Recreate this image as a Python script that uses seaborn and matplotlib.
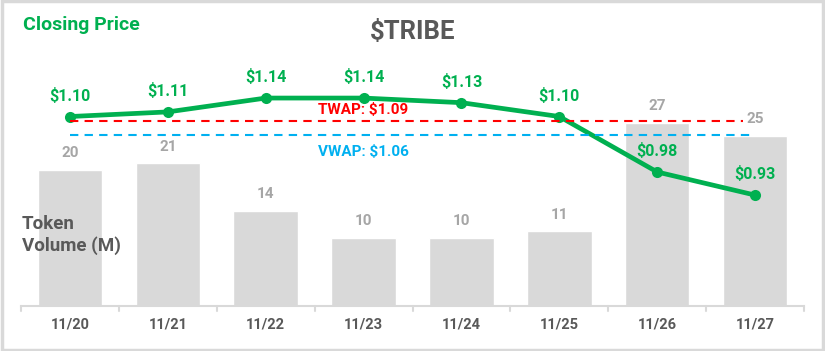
import numpy as np
import pandas as pd
import matplotlib.pyplot as plt
import seaborn as sns
from matplotlib.patches import Rectangle

# chart data
dates = ['11/20', '11/21', '11/22', '11/23', '11/24', '11/25', '11/26', '11/27']
volume = [20, 21, 14, 10, 10, 11, 27, 25]
price = [1.10, 1.11, 1.14, 1.14, 1.13, 1.10, 0.98, 0.93]
twap = 1.09
vwap = 1.06

GREEN = '#00B050'
BAR_GRAY = '#D9D9D9'
DARK = '#595959'
LABEL_GRAY = '#A6A6A6'
RED = '#FF0000'
BLUE = '#00B0F0'


def make_chart():
    sns.set_style('white')
    plt.rcParams['font.family'] = ['Roboto', 'DejaVu Sans']

    df = pd.DataFrame({'date': dates, 'volume': volume, 'price': price})

    fig = plt.figure(figsize=(8.25, 3.51), dpi=100)
    ax = fig.add_axes([21 / 825, 45 / 351, 783 / 825, 250 / 351])

    # volume bars
    sns.barplot(data=df, x='date', y='volume', color=BAR_GRAY, width=0.66,
                saturation=1, ax=ax)
    ax.set_ylim(0, 36.8)
    ax.set_xlim(-0.5, 7.5)
    for i, v in enumerate(volume):
        ax.annotate(str(v), (i, v), xytext=(0, 12), textcoords='offset points',
                    ha='center', va='center', fontsize=11, fontweight='bold',
                    color=LABEL_GRAY)

    ax.set_xlabel('')
    ax.set_ylabel('')
    ax.set_yticks([])
    ax.set_xticks(range(len(dates)))
    ax.set_xticklabels(dates, fontsize=10.5, fontweight='bold', color=DARK)
    ax.tick_params(axis='x', length=0, pad=8)
    for s in ['top', 'right', 'left']:
        ax.spines[s].set_visible(False)
    ax.spines['bottom'].set_color(BAR_GRAY)
    ax.spines['bottom'].set_linewidth(1.5)
    # category boundary ticks, Excel style
    for b in np.arange(-0.5, 8, 1):
        ax.plot([b, b], [0, -0.8], color=BAR_GRAY, lw=1.5, clip_on=False)

    # price line on a second axis
    ax2 = ax.twinx()
    x_idx = np.arange(len(dates))
    sns.lineplot(x=x_idx, y=price, color=GREEN, linewidth=3.4, marker='o',
                 markersize=8, markeredgewidth=0, ax=ax2)
    ax2.set_ylim(0.69, 1.231)
    ax2.set_xlim(-0.5, 7.5)
    ax2.set_yticks([])
    ax2.set_ylabel('')
    for s in ['top', 'right', 'left', 'bottom']:
        ax2.spines[s].set_visible(False)
    for i, p in enumerate(price):
        ax2.annotate(f'${p:.2f}', (i, p), xytext=(0, 15), textcoords='offset points',
                     ha='center', va='center', fontsize=11.5, fontweight='bold',
                     color=GREEN)

    # TWAP / VWAP reference lines
    ax2.plot([0, 6.88], [twap, twap], color=RED, lw=1.5, ls=(0, (4, 3)))
    ax2.plot([0, 7], [vwap, vwap], color=BLUE, lw=1.5, ls=(0, (4, 3)))
    ax2.annotate(f'TWAP: ${twap:.2f}', (3.0, twap), xytext=(0, 8),
                 textcoords='offset points', ha='center', va='center',
                 fontsize=11, fontweight='bold', color=RED)
    ax2.annotate(f'VWAP: ${vwap:.2f}', (3.0, vwap), xytext=(0, -12),
                 textcoords='offset points', ha='center', va='center',
                 fontsize=11, fontweight='bold', color=BLUE)

    # titles
    fig.text(0.5, 1 - 32 / 351, '$TRIBE', ha='center', va='center',
             fontsize=18.5, fontweight='bold', color=DARK)
    fig.text(23 / 825, 1 - 25 / 351, 'Closing Price', ha='left', va='center',
             fontsize=14, fontweight='bold', color=GREEN)
    fig.text(22 / 825, 1 - 235 / 351, 'Token\nVolume (M)', ha='left', va='center',
             fontsize=13.5, fontweight='bold', color=DARK, linespacing=1.25)

    # light frame around the figure
    fig.patches.append(Rectangle((0.002, 0.003), 0.996, 0.994, transform=fig.transFigure,
                                 fill=False, edgecolor=BAR_GRAY, lw=2.5))

    fig.savefig('out.png', dpi=100)
    plt.close(fig)


if __name__ == '__main__':
    make_chart()
